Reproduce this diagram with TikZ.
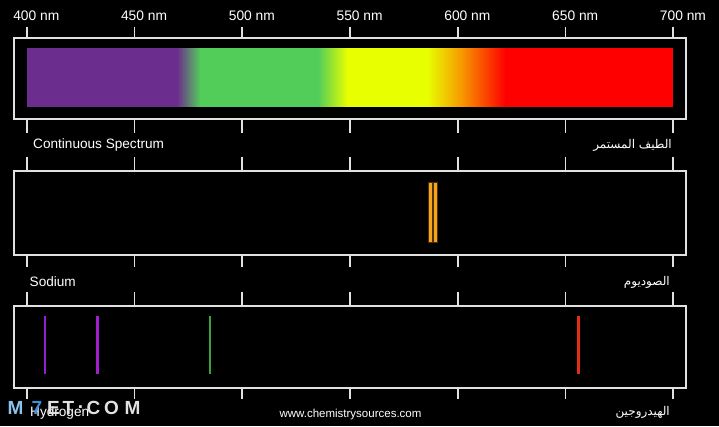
\documentclass[tikz,border=0pt]{standalone}
\usepackage{fontspec}
\setmainfont{Liberation Sans}
\newfontfamily\arabicfont[Script=Arabic]{DejaVu Sans}
\TeXXeTstate=1
\definecolor{spPurple}{RGB}{108,46,142}
\definecolor{spGreen}{RGB}{82,205,90}
\definecolor{spYellow}{RGB}{232,255,0}
\definecolor{spOrange}{RGB}{247,150,0}
\definecolor{spRed}{RGB}{255,0,0}
\definecolor{frameGray}{RGB}{225,225,225}
\definecolor{naOrange}{RGB}{247,164,28}
\definecolor{hViolet}{RGB}{150,30,210}
\definecolor{hPurple}{RGB}{165,30,205}
\definecolor{hGreen}{RGB}{60,160,60}
\definecolor{hRed}{RGB}{230,45,20}
\definecolor{wmLight}{RGB}{140,195,236}
\definecolor{wmBlue}{RGB}{63,143,216}
\begin{document}
\begin{tikzpicture}[x=1pt,y=-1pt,
  frame/.style={draw=frameGray,line width=1.8pt},
  tick/.style={draw=frameGray,line width=1.8pt},
  nmlabel/.style={anchor=west,text=white,font=\fontsize{13.8}{14}\selectfont,inner sep=0pt},
  enlabel/.style={anchor=west,text=white,font=\fontsize{13.6}{14}\selectfont,inner sep=0pt},
  arlabel/.style={anchor=east,text=white,font=\arabicfont\fontsize{12}{13}\selectfont,inner sep=0pt},
  wm/.style={text=#1,font=\bfseries\fontsize{19}{20}\selectfont,inner sep=0pt}]
\useasboundingbox (0,0) rectangle (719,426);
\fill[black] (0,0) rectangle (719,426);

% ---- continuous spectrum gradient
\fill[spPurple] (26.7,48.3) rectangle (177.5,106.7);
\shade[left color=spPurple,right color=spGreen] (177,48.3) rectangle (200.5,106.7);
\fill[spGreen] (200,48.3) rectangle (318.5,106.7);
\shade[left color=spGreen,right color=spYellow] (318,48.3) rectangle (347.5,106.7);
\fill[spYellow] (347,48.3) rectangle (427.5,106.7);
\shade[left color=spYellow,right color=spOrange] (427,48.3) rectangle (462.5,106.7);
\shade[left color=spOrange,right color=spRed] (462,48.3) rectangle (505.5,106.7);
\fill[spRed] (505,48.3) rectangle (673.3,106.7);

% ---- frames
\node[frame,minimum width=671.7pt,minimum height=81.6pt,inner sep=0pt,anchor=north west] (cont) at (13.3,36.7) {};
\node[frame,minimum width=671.7pt,minimum height=84pt,inner sep=0pt,anchor=north west] (sodium) at (13.3,170) {};
\node[frame,minimum width=671.7pt,minimum height=82.3pt,inner sep=0pt,anchor=north west] (hydro) at (13.3,305) {};

% ---- ticks and nm labels
\foreach \i/\lab in {0/400,1/450,2/500,3/550,4/600,5/650,6/700}{
  \pgfmathsetmacro{\xx}{26.7+107.77*\i}
  \draw[tick] (\xx,26.5) -- (\xx,36.7);
  \draw[tick] (\xx,118.3) -- (\xx,133);
  \draw[tick] (\xx,156.7) -- (\xx,170);
  \draw[tick] (\xx,254) -- (\xx,266.7);
  \draw[tick] (\xx,291.7) -- (\xx,305);
  \draw[tick] (\xx,387.3) -- (\xx,398.5);
  \node[nmlabel] (nm\lab) at (\xx-13.6,16) {\lab{} nm};
}

% ---- sodium lines
\fill[naOrange,draw=black!70!naOrange,line width=0.4pt] (428.3,182.3) rectangle (432.3,241.7);
\fill[naOrange,draw=black!70!naOrange,line width=0.4pt] (432.8,182.3) rectangle (436.8,241.7);

% ---- hydrogen lines
\draw[hViolet,line width=2.4pt] (45,316) -- (45,374.3);
\draw[hPurple,line width=2.4pt] (97.3,316) -- (97.3,374.3);
\draw[hGreen,line width=2.2pt] (210.3,316) -- (210.3,374.3);
\draw[hRed,line width=2.8pt] (578.3,316) -- (578.3,374.3);

% ---- labels
\node[enlabel] (lcont) at (33,145) {Continuous Spectrum};
\node[arlabel] (acont) at (672,145) {\beginR الطيف المستمر\endR};
\node[enlabel] (lsod) at (29.5,282) {Sodium};
\node[arlabel] (asod) at (670,282) {\beginR الصوديوم\endR};
\node[enlabel] (lhyd) at (30,413) {Hydrogen};
\node[arlabel] (ahyd) at (670,412) {\beginR الهيدروجين\endR};
\node[text=white,font=\fontsize{11.5}{13}\selectfont,inner sep=0pt] (site) at (350.5,415) {www.chemistrysources.com};

% ---- watermark
\node[wm=wmLight] (w1) at (15.5,407.5) {M};
\node[wm=wmBlue] (w2) at (37,407.5) {7};
\node[wm=frameGray] (w3) at (53.5,407.5) {E};
\node[wm=frameGray] (w4) at (68.5,407.5) {T};
\node[wm=frameGray] (w5) at (80.5,407.5) {.};
\node[wm=frameGray] (w6) at (93.5,407.5) {C};
\node[wm=frameGray] (w7) at (111.5,407.5) {O};
\node[wm=frameGray] (w8) at (132.5,407.5) {M};
\end{tikzpicture}
\end{document}
